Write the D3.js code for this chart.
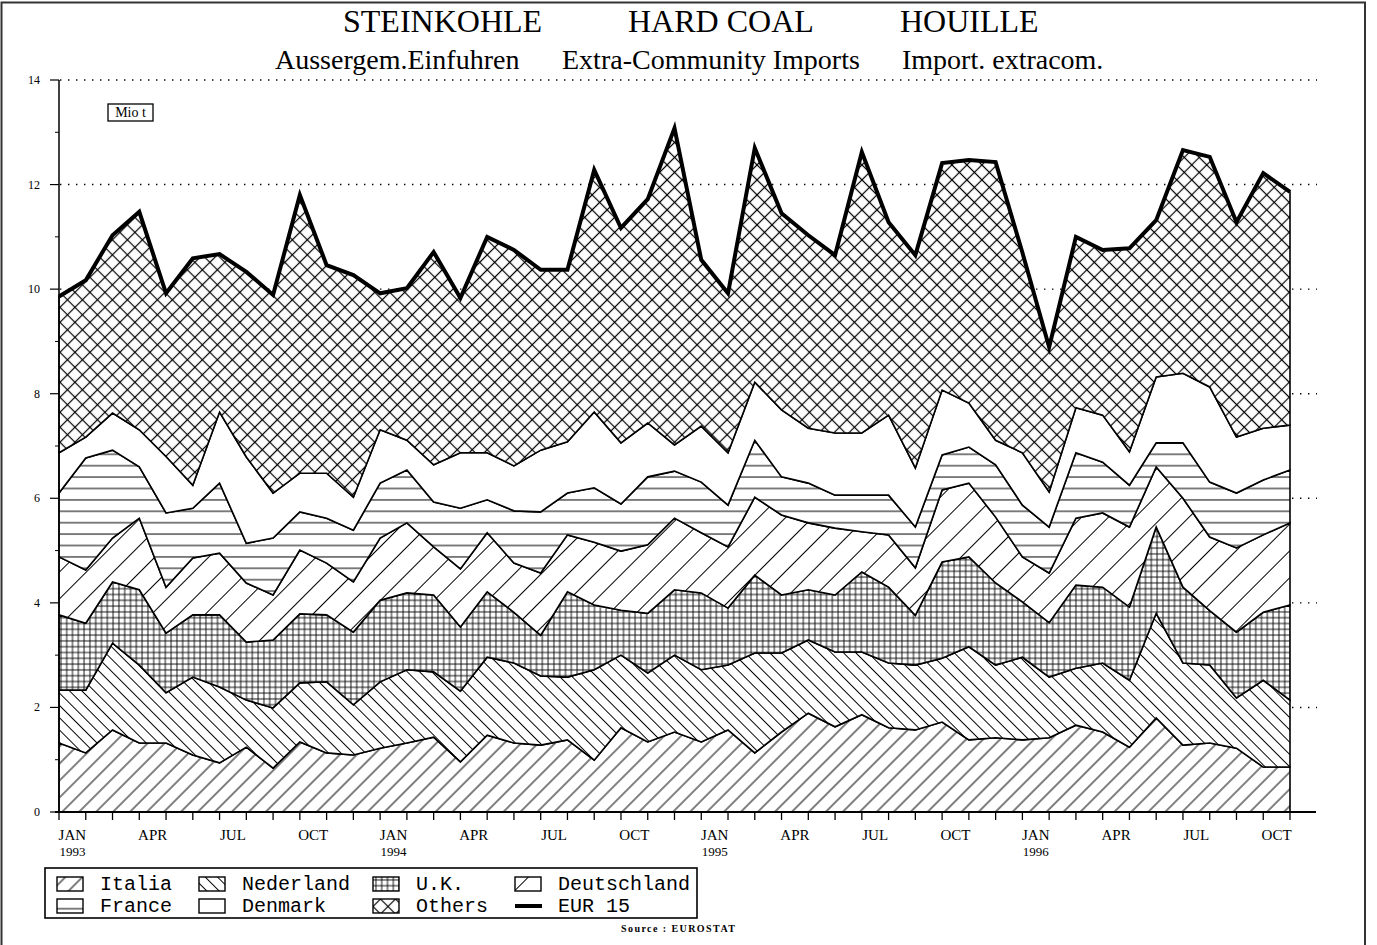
<!DOCTYPE html>
<html>
<head>
<meta charset="utf-8">
<script src="https://cdn.jsdelivr.net/npm/d3@7"></script>
<style>
  body { margin: 0; background: #fff; }
  text { fill: #000; }
</style>
</head>
<body>
<div id="chart"></div>
<script>
// monthly extra-community imports, Mio t
const italia      = [1.32,1.13,1.57,1.32,1.32,1.09,0.94,1.24,0.84,1.34,1.13,1.09,1.22,1.32,1.43,0.96,1.47,1.32,1.28,1.38,0.99,1.61,1.34,1.53,1.34,1.57,1.13,1.53,1.89,1.63,1.86,1.61,1.57,1.72,1.38,1.42,1.38,1.42,1.66,1.53,1.24,1.80,1.28,1.32,1.22,0.86,0.86];
const nederland   = [1.01,1.20,1.66,1.49,0.96,1.49,1.45,0.90,1.15,1.13,1.36,0.96,1.27,1.40,1.25,1.35,1.49,1.53,1.32,1.20,1.73,1.39,1.32,1.47,1.38,1.24,1.91,1.51,1.40,1.43,1.20,1.24,1.24,1.22,1.78,1.39,1.58,1.16,1.09,1.32,1.28,2.00,1.57,1.49,0.96,1.66,1.28];
const uk          = [1.44,1.28,1.17,1.44,1.14,1.19,1.38,1.11,1.30,1.32,1.28,1.39,1.56,1.47,1.47,1.23,1.25,0.97,0.78,1.63,1.24,0.86,1.14,1.25,1.47,1.09,1.49,1.11,0.96,1.09,1.53,1.45,0.95,1.84,1.72,1.57,1.06,1.04,1.59,1.45,1.40,1.65,1.45,1.04,1.26,1.30,1.82];
const deutschland = [1.11,1.02,0.84,1.37,0.88,1.09,1.18,1.13,0.86,1.22,0.99,0.96,1.19,1.34,0.92,1.11,1.13,0.94,1.19,1.09,1.20,1.13,1.31,1.37,1.15,1.17,1.49,1.53,1.28,1.28,0.77,1.00,0.91,1.38,1.41,1.26,0.86,0.95,1.28,1.42,1.53,1.15,1.70,1.41,1.61,1.48,1.57];
const france      = [1.22,2.14,1.68,0.98,1.42,0.95,1.34,0.76,1.09,0.73,0.86,0.99,1.05,1.01,0.86,1.16,0.63,1.00,1.17,0.80,1.04,0.90,1.30,0.90,0.97,0.80,1.09,0.73,0.76,0.63,0.70,0.76,0.78,0.67,0.69,1.00,0.99,0.88,1.25,0.97,0.80,0.46,1.06,1.05,1.05,1.05,1.01];
const denmark     = [0.77,0.40,0.71,0.71,1.08,0.44,1.36,1.65,0.86,0.74,0.86,0.63,1.02,0.57,0.71,1.06,0.90,0.86,1.18,0.98,1.45,1.17,1.03,0.50,1.07,1.00,1.11,1.28,1.05,1.19,1.19,1.53,1.13,1.24,0.84,0.47,1.00,0.67,0.86,0.90,0.64,1.26,1.33,1.82,1.07,0.99,0.86];
const others      = [2.99,3.00,3.40,4.17,3.12,4.34,3.02,3.54,3.79,5.32,3.98,4.25,2.61,2.91,4.07,2.96,4.13,4.13,3.45,3.29,4.63,4.11,4.28,6.06,3.18,3.05,4.48,3.76,3.69,3.40,5.37,3.69,4.07,4.34,4.65,5.32,3.83,2.77,3.27,3.16,3.89,3.00,4.27,4.40,4.11,4.88,4.46];
const eur15       = [9.86,10.17,11.03,11.48,9.92,10.59,10.67,10.33,9.89,11.80,10.46,10.27,9.92,10.02,10.71,9.83,11.00,10.75,10.37,10.37,12.28,11.17,11.72,13.08,10.56,9.92,12.70,11.45,11.03,10.65,12.62,11.28,10.65,12.41,12.47,12.43,10.70,8.89,11.00,10.75,10.78,11.32,12.66,12.53,11.28,12.22,11.86];

const tickMonths = ["JAN","APR","JUL","OCT","JAN","APR","JUL","OCT","JAN","APR","JUL","OCT","JAN","APR","JUL","OCT"];
const tickYears  = ["1993","","","","1994","","","","1995","","","","1996","","",""];
const yTicks = [0,2,4,6,8,10,12,14];

const W = 1377, H = 945;
const svg = d3.select("#chart").append("svg")
    .attr("width", W).attr("height", H)
    .style("font-family", "'Liberation Serif', serif");

svg.append("rect").attr("width", W).attr("height", H).attr("fill", "white");

// page frame
svg.append("path")
    .attr("d", "M1.5,945 V2.5 H1365 V945")
    .attr("fill", "none").attr("stroke", "#333").attr("stroke-width", 2);

const n = italia.length;
const x = d3.scaleLinear().domain([0, n - 1]).range([59, 1290]);
const y = d3.scaleLinear().domain([0, 14]).range([812, 80]);

// ---- hatch patterns
const defs = svg.append("defs");
function hatch(id, gap, angle, lw) {
  const p = defs.append("pattern").attr("id", id)
      .attr("patternUnits", "userSpaceOnUse")
      .attr("width", gap).attr("height", gap)
      .attr("patternTransform", `rotate(${angle})`);
  p.append("rect").attr("width", gap).attr("height", gap).attr("fill", "white");
  p.append("line").attr("x1", gap / 2).attr("x2", gap / 2).attr("y1", 0).attr("y2", gap)
      .attr("stroke", "black").attr("stroke-width", lw);
  return p;
}
hatch("p-italia", 12, 45, 1);
hatch("p-nederland", 8.7, -45, 1);
hatch("p-deutschland", 19, 45, 1);
const pOth = hatch("p-others", 10.6, 45, 1.2);
pOth.append("line").attr("x1", 0).attr("x2", 10.6).attr("y1", 5.3).attr("y2", 5.3)
    .attr("stroke", "black").attr("stroke-width", 1.2);

const pUk = defs.append("pattern").attr("id", "p-uk")
    .attr("patternUnits", "userSpaceOnUse").attr("width", 5.8).attr("height", 5.8);
pUk.append("rect").attr("width", 5.8).attr("height", 5.8).attr("fill", "white");
pUk.append("line").attr("x1", 2.9).attr("x2", 2.9).attr("y1", 0).attr("y2", 5.8).attr("stroke", "black").attr("stroke-width", 0.9);
pUk.append("line").attr("y1", 2.9).attr("y2", 2.9).attr("x1", 0).attr("x2", 5.8).attr("stroke", "black").attr("stroke-width", 0.9);

const pFr = defs.append("pattern").attr("id", "p-france")
    .attr("patternUnits", "userSpaceOnUse").attr("width", 20).attr("height", 11.4)
    .attr("patternTransform", "translate(0,4)");
pFr.append("rect").attr("width", 20).attr("height", 11.4).attr("fill", "white");
pFr.append("line").attr("x1", 0).attr("x2", 20).attr("y1", 5.7).attr("y2", 5.7).attr("stroke", "black").attr("stroke-width", 1);

const keys = ["Italia", "Nederland", "U.K.", "Deutschland", "France", "Denmark", "Others"];
const series = [italia, nederland, uk, deutschland, france, denmark, others];
const fills = ["url(#p-italia)", "url(#p-nederland)", "url(#p-uk)", "url(#p-deutschland)", "url(#p-france)", "white", "url(#p-others)"];

// ---- gridlines (dotted), sit behind the areas
svg.append("g").selectAll("line")
    .data(yTicks.filter(d => d > 0))
    .join("line")
    .attr("x1", 60).attr("x2", 1317)
    .attr("y1", d => y(d)).attr("y2", d => y(d))
    .attr("stroke", "black").attr("stroke-width", 1.4)
    .attr("stroke-dasharray", "1.4,6.6");

// ---- stacked areas
const rows = d3.range(n).map(i => {
  const r = {i: i};
  keys.forEach((k, j) => r[k] = series[j][i]);
  return r;
});
const stacked = d3.stack().keys(keys)(rows);

const area = d3.area()
    .x(d => x(d.data.i))
    .y0(d => y(d[0]))
    .y1(d => y(d[1]));

svg.append("g").selectAll("path")
    .data(stacked)
    .join("path")
    .attr("d", area)
    .attr("fill", (d, i) => fills[i])
    .attr("stroke", "black")
    .attr("stroke-width", 1.6)
    .attr("stroke-linejoin", "miter");

// EUR 15 total line
svg.append("path")
    .datum(eur15)
    .attr("d", d3.line().x((d, i) => x(i)).y(d => y(d)))
    .attr("fill", "none")
    .attr("stroke", "black")
    .attr("stroke-width", 4)
    .attr("stroke-linejoin", "miter");

// ---- y axis
const yAx = svg.append("g");
yAx.append("line").attr("x1", 59).attr("x2", 59).attr("y1", y(14)).attr("y2", y(0))
    .attr("stroke", "black").attr("stroke-width", 1.5);
yAx.selectAll(".major").data(yTicks).join("line")
    .attr("x1", 50).attr("x2", 59).attr("y1", d => y(d)).attr("y2", d => y(d))
    .attr("stroke", "black").attr("stroke-width", 1.2);
yAx.selectAll(".minor").data(d3.range(1, 14, 2)).join("line")
    .attr("x1", 55).attr("x2", 59).attr("y1", d => y(d)).attr("y2", d => y(d))
    .attr("stroke", "black").attr("stroke-width", 1);
yAx.selectAll("text").data(yTicks).join("text")
    .attr("x", 40).attr("y", d => y(d) + 4)
    .attr("text-anchor", "end")
    .style("font-size", "12px")
    .text(d => d);

// ---- x axis
const xAx = svg.append("g");
xAx.append("line").attr("x1", 55).attr("x2", 1316).attr("y1", y(0)).attr("y2", y(0))
    .attr("stroke", "black").attr("stroke-width", 2);
xAx.selectAll(".tick").data(d3.range(n)).join("line")
    .attr("x1", d => x(d)).attr("x2", d => x(d))
    .attr("y1", y(0)).attr("y2", y(0) + 8)
    .attr("stroke", "black").attr("stroke-width", 1.3);
xAx.selectAll(".mon").data(tickMonths).join("text")
    .attr("x", (d, i) => x(i * 3 + 0.5))
    .attr("y", 840)
    .attr("text-anchor", "middle")
    .style("font-size", "15px")
    .text(d => d);
xAx.selectAll(".yr").data(tickYears).join("text")
    .attr("x", (d, i) => x(i * 3 + 0.5))
    .attr("y", 856)
    .attr("text-anchor", "middle")
    .style("font-size", "13px")
    .text(d => d);

// ---- titles
const t1 = [["STEINKOHLE", 343], ["HARD COAL", 628], ["HOUILLE", 900]];
svg.selectAll(".t1").data(t1).join("text")
    .attr("x", d => d[1]).attr("y", 32)
    .style("font-size", "32px")
    .text(d => d[0]);
const t2 = [["Aussergem.Einfuhren", 275], ["Extra-Community Imports", 562], ["Import. extracom.", 902]];
svg.selectAll(".t2").data(t2).join("text")
    .attr("x", d => d[1]).attr("y", 69)
    .style("font-size", "28px")
    .text(d => d[0]);

// unit box
svg.append("rect").attr("x", 108).attr("y", 104).attr("width", 45).attr("height", 17)
    .attr("fill", "white").attr("stroke", "black").attr("stroke-width", 1.3);
svg.append("text").attr("x", 130.5).attr("y", 117).attr("text-anchor", "middle")
    .style("font-size", "14px").text("Mio t");

// ---- legend
const lg = svg.append("g").style("font-family", "'Liberation Mono', monospace");
lg.append("rect").attr("x", 45).attr("y", 868).attr("width", 652).attr("height", 50)
    .attr("fill", "white").attr("stroke", "black").attr("stroke-width", 1.6);
const legItems = [
  {name: "Italia", fill: fills[0], col: 0, row: 0},
  {name: "Nederland", fill: fills[1], col: 1, row: 0},
  {name: "U.K.", fill: fills[2], col: 2, row: 0},
  {name: "Deutschland", fill: fills[3], col: 3, row: 0},
  {name: "France", fill: fills[4], col: 0, row: 1},
  {name: "Denmark", fill: fills[5], col: 1, row: 1},
  {name: "Others", fill: fills[6], col: 2, row: 1},
  {name: "EUR 15", fill: null, col: 3, row: 1}
];
const colX = [57, 199, 373, 515];
const gi = lg.selectAll(".it").data(legItems).join("g")
    .attr("transform", d => `translate(${colX[d.col]},${877 + d.row * 22})`);
gi.filter(d => d.fill).append("rect")
    .attr("width", 26).attr("height", 14)
    .attr("fill", d => d.fill).attr("stroke", "black").attr("stroke-width", 1.4);
gi.filter(d => !d.fill).append("line")
    .attr("x1", 0).attr("x2", 27).attr("y1", 7).attr("y2", 7)
    .attr("stroke", "black").attr("stroke-width", 4);
gi.append("text").attr("x", 43).attr("y", 13)
    .style("font-size", "20px")
    .text(d => d.name);

svg.append("text").attr("x", 621).attr("y", 932)
    .attr("textLength", 114)
    .style("font-size", "10px").style("font-weight", "bold")
    .text("Source : EUROSTAT");
</script>
</body>
</html>
